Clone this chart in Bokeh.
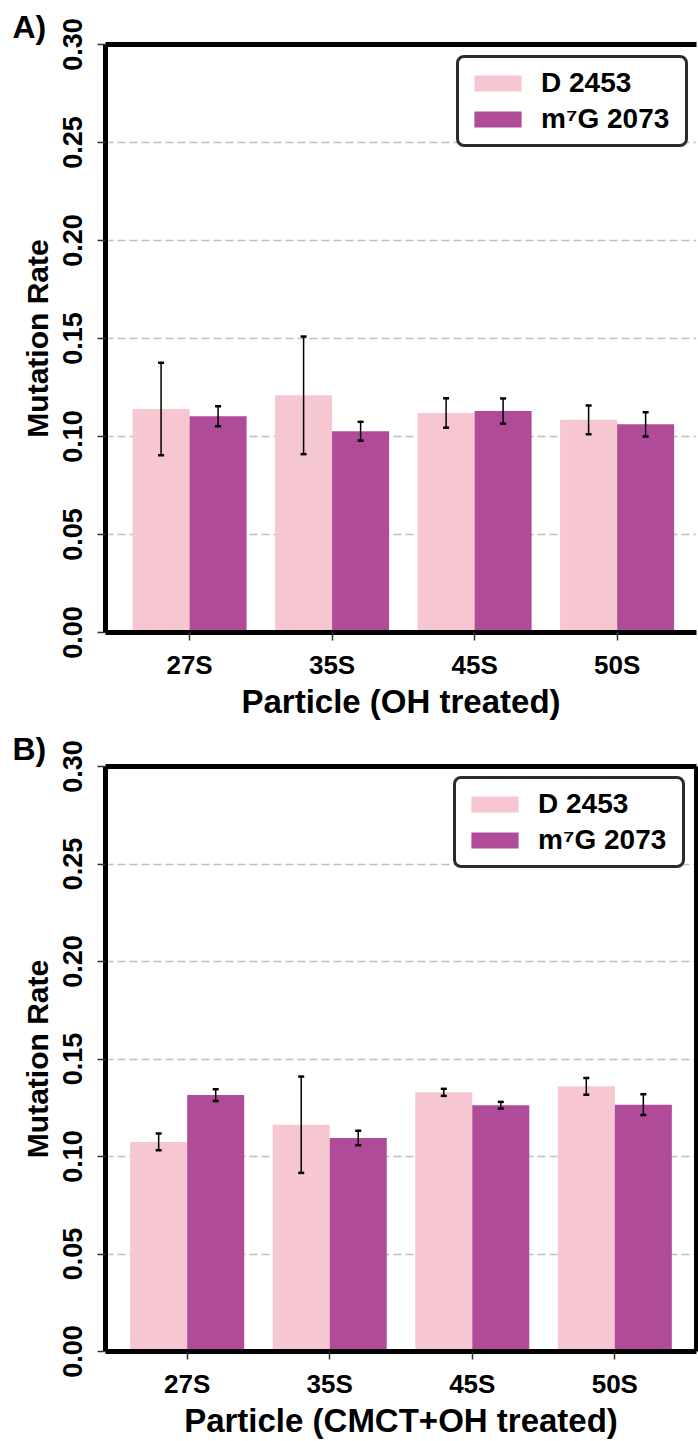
from bokeh.plotting import figure
from bokeh.models import (Range1d, LinearAxis, FixedTicker, Whisker, ColumnDataSource,
                          Legend, LegendItem, TeeHead)
from bokeh.layouts import column
from bokeh.embed import file_html
from bokeh.resources import INLINE

# ---------------- data ----------------
particles = ["27S", "35S", "45S", "50S"]
series = ["D 2453", "m\u2077G 2073"]

oh_d2453 = [0.114, 0.121, 0.112, 0.1085]
oh_d2453_err = [0.0236, 0.030, 0.0075, 0.0073]
oh_m7g = [0.1103, 0.1027, 0.1130, 0.1062]
oh_m7g_err = [0.0051, 0.0048, 0.0064, 0.0062]

cmct_d2453 = [0.1075, 0.1163, 0.1329, 0.1360]
cmct_d2453_err = [0.0043, 0.0247, 0.0018, 0.0043]
cmct_m7g = [0.1315, 0.1095, 0.1263, 0.1266]
cmct_m7g_err = [0.0030, 0.0037, 0.0017, 0.0053]

yticks = [0.0, 0.05, 0.10, 0.15, 0.20, 0.25, 0.30]
ytick_labels = ["0.00", "0.05", "0.10", "0.15", "0.20", "0.25", "0.30"]

PINK = "#F6C6D1"
PURPLE = "#AF4B98"
FONT = "Liberation Sans"


def make_panel(letter, xlabel, d_vals, d_err, m_vals, m_err, height, top, bottom,
               xstart, xend, right_border, legend_loc):
    p = figure(width=698, height=height, title=letter,
               x_range=Range1d(xstart, xend), y_range=Range1d(yticks[0], yticks[-1]),
               output_backend="svg", toolbar_location=None,
               min_border_left=105, min_border_right=right_border,
               min_border_top=top, min_border_bottom=bottom)
    p.outline_line_color = None
    p.background_fill_color = "white"
    p.border_fill_color = "white"

    # panel letter as the title, pushed to the far left
    p.title.align = "left"
    p.title.offset = -93
    p.title.standoff = 0
    p.title.text_font = FONT
    p.title.text_font_style = "bold"
    p.title.text_font_size = "32px"
    p.title.text_color = "black"

    idx = list(range(len(particles)))
    src_d = ColumnDataSource(dict(
        x=[i - 0.2 for i in idx], top=d_vals,
        upper=[v + e for v, e in zip(d_vals, d_err)],
        lower=[v - e for v, e in zip(d_vals, d_err)]))
    src_m = ColumnDataSource(dict(
        x=[i + 0.2 for i in idx], top=m_vals,
        upper=[v + e for v, e in zip(m_vals, m_err)],
        lower=[v - e for v, e in zip(m_vals, m_err)]))

    r1 = p.vbar(x="x", top="top", bottom=0, width=0.4, source=src_d,
                fill_color=PINK, line_color=None)
    r2 = p.vbar(x="x", top="top", bottom=0, width=0.4, source=src_m,
                fill_color=PURPLE, line_color=None)

    for src in (src_d, src_m):
        w = Whisker(base="x", upper="upper", lower="lower", source=src,
                    line_color="black", line_width=1.5, level="annotation",
                    upper_head=TeeHead(size=6, line_width=2.5, line_color="black"),
                    lower_head=TeeHead(size=6, line_width=2.5, line_color="black"))
        p.add_layout(w)

    # grid
    p.xgrid.grid_line_color = None
    p.ygrid.ticker = FixedTicker(ticks=yticks)
    p.ygrid.grid_line_color = "#c0c0c0"
    p.ygrid.grid_line_width = 1.5
    p.ygrid.grid_line_dash = "8 4"

    # x axis
    xa = p.xaxis[0]
    xa.ticker = FixedTicker(ticks=idx)
    xa.major_label_overrides = {i: name for i, name in zip(idx, particles)}
    xa.axis_line_width = 5
    xa.axis_line_color = "black"
    xa.major_tick_out = 8
    xa.major_tick_in = 0
    xa.major_tick_line_width = 1.5
    xa.major_tick_line_color = "#333333"
    xa.minor_tick_line_color = None
    xa.major_label_text_font = FONT
    xa.major_label_text_font_style = "bold"
    xa.major_label_text_font_size = "26px"
    xa.major_label_text_color = "black"
    xa.major_label_standoff = 9
    xa.axis_label = xlabel
    xa.axis_label_text_font = FONT
    xa.axis_label_text_font_style = "bold"
    xa.axis_label_text_font_size = "33px"
    xa.axis_label_text_color = "black"
    xa.axis_label_standoff = 0

    # y axis
    ya = p.yaxis[0]
    ya.ticker = FixedTicker(ticks=yticks)
    ya.major_label_overrides = {t: s for t, s in zip(yticks, ytick_labels)}
    ya.major_label_orientation = "vertical"
    ya.axis_line_width = 5
    ya.axis_line_color = "black"
    ya.major_tick_out = 8
    ya.major_tick_in = 0
    ya.major_tick_line_width = 1.5
    ya.major_tick_line_color = "#333333"
    ya.minor_tick_line_color = None
    ya.major_label_text_font = FONT
    ya.major_label_text_font_style = "bold"
    ya.major_label_text_font_size = "27px"
    ya.major_label_text_color = "black"
    ya.major_label_standoff = 16
    ya.axis_label = "Mutation Rate"
    ya.axis_label_text_font = FONT
    ya.axis_label_text_font_style = "bold"
    ya.axis_label_text_font_size = "30px"
    ya.axis_label_text_color = "black"
    ya.axis_label_standoff = 6

    # frame lines (top, and right when visible)
    top_axis = LinearAxis(ticker=FixedTicker(ticks=[]), axis_line_width=5,
                          axis_line_color="black", major_tick_line_color=None,
                          major_tick_out=0, major_tick_in=0, major_label_standoff=0,
                          minor_tick_line_color=None, major_label_text_font_size="0px")
    p.add_layout(top_axis, "above")
    if right_border > 0:
        right_axis = LinearAxis(ticker=FixedTicker(ticks=[]), axis_line_width=5,
                                axis_line_color="black", major_tick_line_color=None,
                                major_tick_out=0, major_tick_in=0, major_label_standoff=0,
                                minor_tick_line_color=None, major_label_text_font_size="0px")
        p.add_layout(right_axis, "right")

    legend = Legend(items=[LegendItem(label=series[0], renderers=[r1]),
                           LegendItem(label=series[1], renderers=[r2])],
                    location=legend_loc)
    legend.label_text_font = FONT
    legend.label_text_font_style = "bold"
    legend.label_text_font_size = "28px"
    legend.label_text_color = "black"
    legend.glyph_width = 59
    legend.glyph_height = 20
    legend.label_height = 30
    legend.label_width = 135
    legend.label_standoff = 14
    legend.spacing = 4
    legend.padding = 9
    legend.margin = 0
    legend.border_line_color = "#2b2b2b"
    legend.border_line_alpha = 1.0
    legend.border_line_width = 3.5
    legend.background_fill_color = "white"
    legend.background_fill_alpha = 1.0
    try:
        legend.border_radius = 8
    except Exception:
        pass
    p.add_layout(legend)
    return p


pA = make_panel("A)", "Particle (OH treated)", oh_d2453, oh_d2453_err, oh_m7g, oh_m7g_err,
                height=722, top=44, bottom=87, xstart=-0.59, xend=3.557, right_border=0,
                legend_loc=(351, 485))
pB = make_panel("B)", "Particle (CMCT+OH treated)", cmct_d2453, cmct_d2453_err, cmct_m7g, cmct_m7g_err,
                height=719, top=44, bottom=85, xstart=-0.573, xend=3.573, right_border=2,
                legend_loc=(348, 483))

layout = column(pA, pB, spacing=0)
open("out.html", "w").write(file_html(layout, INLINE))
